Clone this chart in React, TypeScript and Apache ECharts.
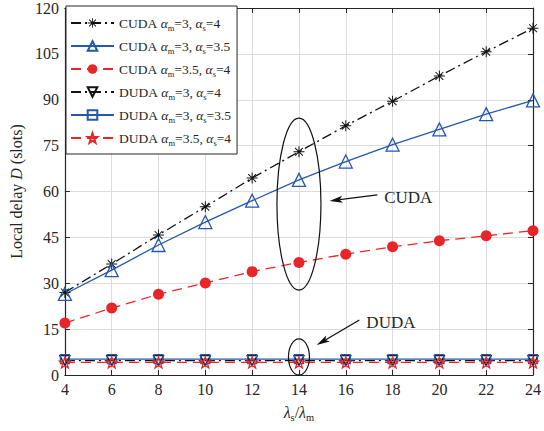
import React, { useEffect, useRef } from "react";
import * as echarts from "echarts";

const xValues = [4, 6, 8, 10, 12, 14, 16, 18, 20, 22, 24];
const cudaA = [27, 36.3, 45.8, 55, 64.4, 73, 81.5, 89.5, 97.8, 105.7, 113.4];
const cudaB = [26.5, 34.3, 42.5, 50, 57, 63.8, 69.8, 75.3, 80.3, 85.3, 89.8];
const cudaC = [17, 21.9, 26.4, 30.1, 33.8, 36.8, 39.5, 41.9, 43.9, 45.5, 47.2];
const dudaA = [4.7, 4.7, 4.7, 4.7, 4.7, 4.7, 4.7, 4.7, 4.7, 4.7, 4.7];
const dudaB = [5.2, 5.2, 5.2, 5.2, 5.2, 5.2, 5.2, 5.2, 5.2, 5.2, 5.2];
const dudaC = [4.1, 4.1, 4.1, 4.1, 4.1, 4.1, 4.1, 4.1, 4.1, 4.1, 4.1];

const seriesNames = [
  "CUDA am=3, as=4",
  "CUDA am=3, as=3.5",
  "CUDA am=3.5, as=4",
  "DUDA am=3, as=4",
  "DUDA am=3, as=3.5",
  "DUDA am=3.5, as=4",
];
const legendLabels = [
  "{n|CUDA }{i|α}{sub|m}{n|=3, }{i|α}{sub|s}{n|=4}",
  "{n|CUDA }{i|α}{sub|m}{n|=3, }{i|α}{sub|s}{n|=3.5}",
  "{n|CUDA }{i|α}{sub|m}{n|=3.5, }{i|α}{sub|s}{n|=4}",
  "{n|DUDA }{i|α}{sub|m}{n|=3, }{i|α}{sub|s}{n|=4}",
  "{n|DUDA }{i|α}{sub|m}{n|=3, }{i|α}{sub|s}{n|=3.5}",
  "{n|DUDA }{i|α}{sub|m}{n|=3.5, }{i|α}{sub|s}{n|=4}",
];

const BLACK = "#111111";
const BLUE = "#2458ad";
const RED = "#e8262a";
const AXIS = "#262626";
const FONT = "Liberation Serif";

const ASTERISK =
  "path://M1,9.2 L19,9.2 L19,10.8 L1,10.8 Z M9.2,1 L10.8,1 L10.8,19 L9.2,19 Z M3.03,4.17 L4.17,3.03 L16.97,15.83 L15.83,16.97 Z M15.83,3.03 L16.97,4.17 L4.17,16.97 L3.03,15.83 Z";
const STAR =
  "path://M10,0 L12.351,6.764 L19.511,6.910 L13.804,11.236 L15.878,18.090 L10,14 L4.122,18.090 L6.196,11.236 L0.489,6.910 L7.649,6.764 Z";

// annotation anchors in data units
const cudaEllipse = { x: 14, y: 55.9, rx: 22, ry: 86 };
const dudaEllipse = { x: 14, y: 5.9, rx: 10.5, ry: 18 };
const cudaArrow = { from: [17.35, 58.9], to: [15.31, 56.9] };
const dudaArrow = { from: [16.58, 18.0], to: [14.76, 9.8] };
const cudaText = { x: 17.64, y: 58.2, text: "CUDA" };
const dudaText = { x: 16.88, y: 17.3, text: "DUDA" };

const dashDot = [10, 4, 2, 4];
const dashed = [10, 6];

function pair(x: number[], y: number[]) {
  return x.map((v, i) => [v, y[i]]);
}

export default function App() {
  const ref = useRef<HTMLDivElement>(null);
  useEffect(() => {
    if (!ref.current) return;
    const chart = echarts.init(ref.current, null, { renderer: "svg" });
    const rich = {
      n: { fontFamily: FONT, fontSize: 13.5, color: AXIS },
      i: { fontFamily: FONT, fontSize: 13.5, fontStyle: "italic", color: AXIS },
      sub: { fontFamily: FONT, fontSize: 8.5, color: AXIS, padding: [9, 0, 0, 0] },
    };
    const xRich = {
      n: { fontFamily: FONT, fontSize: 16, color: AXIS },
      i: { fontFamily: FONT, fontSize: 16, fontStyle: "italic", color: AXIS },
      sub: { fontFamily: FONT, fontSize: 10.5, color: AXIS, padding: [10, 0, 0, 0] },
    };
    const mk = (
      idx: number,
      data: number[],
      color: string,
      type: any,
      symbol: string,
      size: number,
      filled: boolean,
      rotate = 0
    ) => ({
      name: seriesNames[idx],
      type: "line",
      data: pair(xValues, data),
      symbol,
      symbolSize: size,
      symbolRotate: rotate,
      showAllSymbol: true,
      lineStyle: { color, width: 1.3, type },
      itemStyle: filled
        ? { color, borderColor: color, borderWidth: 0 }
        : { color: "rgba(0,0,0,0)", borderColor: color, borderWidth: 1.3 },
      z: 3,
    });
    const labelMap: Record<string, string> = {};
    seriesNames.forEach((n, i) => (labelMap[n] = legendLabels[i]));
    const axisLabel = { fontFamily: FONT, fontSize: 16, color: AXIS, margin: 6 };
    chart.setOption({
      animation: false,
      backgroundColor: "#ffffff",
      textStyle: { fontFamily: FONT },
      grid: { left: 63, right: 9, top: 8, bottom: 56 },
      legend: {
        orient: "vertical",
        left: 66,
        top: 6,
        itemWidth: 43,
        itemHeight: 12,
        itemGap: 7,
        padding: [10, 6, 7, 4],
        borderColor: AXIS,
        borderWidth: 1,
        backgroundColor: "#ffffff",
        data: seriesNames,
        formatter: (n: string) => labelMap[n],
        textStyle: { fontFamily: FONT, fontSize: 13.5, color: AXIS, rich },
      },
      xAxis: [
        {
          type: "value",
          min: 4,
          max: 24,
          interval: 2,
          name: "{i|λ}{sub|s}{n|/}{i|λ}{sub|m}",
          nameLocation: "middle",
          nameGap: 27,
          nameTextStyle: { rich: xRich },
          axisLine: { show: true, lineStyle: { color: AXIS, width: 1.2 } },
          axisTick: { show: true, inside: true, length: 5, lineStyle: { color: AXIS } },
          axisLabel,
          splitLine: { show: true, lineStyle: { color: "#dcdcdc", width: 1 } },
        },
        {
          type: "value",
          position: "top",
          min: 4,
          max: 24,
          interval: 2,
          axisLine: { show: true, onZero: false, lineStyle: { color: AXIS, width: 1.2 } },
          axisTick: { show: true, inside: true, length: 5, lineStyle: { color: AXIS } },
          axisLabel: { show: false },
          splitLine: { show: false },
        },
      ],
      yAxis: [
        {
          type: "value",
          min: 0,
          max: 120,
          interval: 15,
          name: "{n|Local delay }{i|D}{n| (slots)}",
          nameLocation: "middle",
          nameGap: 38,
          nameTextStyle: {
            rich: {
              n: { fontFamily: FONT, fontSize: 16, color: AXIS },
              i: { fontFamily: FONT, fontSize: 16, fontStyle: "italic", color: AXIS },
            },
          },
          axisLine: { show: true, lineStyle: { color: AXIS, width: 1.2 } },
          axisTick: { show: true, inside: true, length: 5, lineStyle: { color: AXIS } },
          axisLabel,
          splitLine: { show: true, lineStyle: { color: "#dcdcdc", width: 1 } },
        },
        {
          type: "value",
          position: "right",
          min: 0,
          max: 120,
          interval: 15,
          axisLine: { show: true, onZero: false, lineStyle: { color: AXIS, width: 1.2 } },
          axisTick: { show: true, inside: true, length: 5, lineStyle: { color: AXIS } },
          axisLabel: { show: false },
          splitLine: { show: false },
        },
      ],
      series: [
        mk(0, cudaA, BLACK, dashDot, ASTERISK, 11, true),
        mk(1, cudaB, BLUE, "solid", "triangle", 13, false),
        mk(2, cudaC, RED, dashed, "circle", 11, true),
        mk(3, dudaA, BLACK, dashDot, "triangle", 10, false, 180),
        mk(4, dudaB, BLUE, "solid", "rect", 9, false),
        mk(5, dudaC, RED, dashed, STAR, 11, false),
      ],
    });

    const px = (p: number[]) => chart.convertToPixel({ gridIndex: 0 }, p) as number[];
    const arrow = (a: { from: number[]; to: number[] }) => {
      const f = px(a.from);
      const t = px(a.to);
      const dx = t[0] - f[0];
      const dy = t[1] - f[1];
      const len = Math.sqrt(dx * dx + dy * dy);
      const ux = dx / len;
      const uy = dy / len;
      const hl = 13;
      const hw = 3.5;
      const bx = t[0] - ux * hl;
      const by = t[1] - uy * hl;
      return [
        {
          type: "line",
          shape: { x1: f[0], y1: f[1], x2: bx + ux * 3, y2: by + uy * 3 },
          style: { stroke: BLACK, lineWidth: 1.3 },
          z: 10,
        },
        {
          type: "polygon",
          shape: {
            points: [
              [t[0], t[1]],
              [bx - uy * hw, by + ux * hw],
              [bx + ux * 3, by + uy * 3],
              [bx + uy * hw, by - ux * hw],
            ],
          },
          style: { fill: BLACK },
          z: 10,
        },
      ];
    };
    const ell = (e: { x: number; y: number; rx: number; ry: number }) => {
      const c = px([e.x, e.y]);
      return {
        type: "ellipse",
        shape: { cx: c[0], cy: c[1], rx: e.rx, ry: e.ry },
        style: { fill: "none", stroke: BLACK, lineWidth: 1.2 },
        z: 10,
      };
    };
    const txt = (t: { x: number; y: number; text: string }) => {
      const c = px([t.x, t.y]);
      return {
        type: "text",
        x: c[0],
        y: c[1],
        style: {
          text: t.text,
          fontFamily: FONT,
          fontSize: 17,
          fill: AXIS,
          verticalAlign: "middle",
        },
        z: 10,
      };
    };
    chart.setOption({
      graphic: [
        ell(cudaEllipse),
        ell(dudaEllipse),
        ...arrow(cudaArrow),
        ...arrow(dudaArrow),
        txt(cudaText),
        txt(dudaText),
      ],
    });
    return () => chart.dispose();
  }, []);
  return (
    <div
      ref={ref}
      style={{ position: "fixed", left: 0, top: 0, width: 544, height: 431 }}
    />
  );
}
